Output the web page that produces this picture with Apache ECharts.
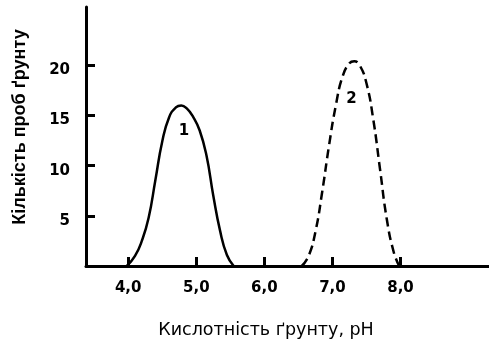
<!DOCTYPE html>
<html>
<head>
<meta charset="utf-8" />
<script src="https://cdn.jsdelivr.net/npm/echarts@6/dist/echarts.min.js"></script>
<title>pH</title>
<style type="text/css">
* {margin:0; padding:0;}
body {background:#ffffff;}
#chart {width:489px; height:345px;}
</style>
</head>
<body>
<div id="chart"></div>
<script>
// крива 1 (суцільна)
var ph1 = [3.98, 4.10, 4.20, 4.30, 4.40, 4.50, 4.60, 4.70, 4.78, 4.86, 4.95, 5.05, 5.15, 5.25, 5.35, 5.45, 5.55];
var count1 = [0, 1.0, 2.5, 4.8, 8.6, 12.4, 14.8, 15.8, 16.0, 15.7, 14.9, 13.5, 11.0, 7.0, 3.5, 1.1, 0];
// крива 2 (пунктир)
var ph2 = [6.55, 6.65, 6.75, 6.85, 6.95, 7.05, 7.15, 7.25, 7.32, 7.40, 7.50, 7.60, 7.70, 7.80, 7.90, 7.98];
var count2 = [0, 1.0, 3.4, 7.4, 12.0, 16.0, 18.9, 20.2, 20.4, 20.0, 18.2, 14.6, 9.6, 4.6, 1.4, 0];
var xTicks = [4, 5, 6, 7, 8];
var yTicks = [5, 10, 15, 20];

function zip(a, b) {
	var out = [];
	for (var i = 0; i < a.length; i++) out.push([a[i], b[i]]);
	return out;
}

var chart = echarts.init(document.getElementById('chart'));
var txt = {color:'#000', fontFamily:'DejaVu Sans', fontWeight:'bold', fontSize:15};

function curveLabel(s) {
	return {
		symbol: 'circle',
		symbolSize: 1,
		itemStyle: {color:'rgba(0,0,0,0)'},
		label: {show:true, position:'inside', formatter:s, color:'#000', fontFamily:'DejaVu Sans', fontWeight:'bold', fontSize:15}
	};
}

var mp1 = curveLabel('1');
mp1.data = [{coord:[4.82, 13.4]}];
var mp2 = curveLabel('2');
mp2.data = [{coord:[7.28, 16.6]}];

chart.setOption({
	animation: false,
	grid: {left:86, right:0, top:7, bottom:79},
	xAxis: {
		type: 'value',
		min: 3.38,
		max: 9.3,
		name: 'Кислотність ґрунту, pH',
		nameLocation: 'middle',
		nameGap: 55,
		nameTextStyle: {color:'#000', fontFamily:'DejaVu Sans', fontSize:17.5, padding:[0, 43, 0, 0]},
		axisLine: {lineStyle:{color:'#000', width:3}},
		axisTick: {inside:true, length:9, lineStyle:{color:'#000', width:3}, customValues: xTicks},
		axisLabel: {
			margin: 15,
			customValues: xTicks,
			formatter: function (v) { return v.toFixed(1).replace('.', ','); },
			color: txt.color, fontFamily: txt.fontFamily, fontWeight: txt.fontWeight, fontSize: txt.fontSize
		},
		splitLine: {show:false}
	},
	yAxis: {
		type: 'value',
		min: 0,
		max: 25.8,
		name: 'Кількість проб ґрунту',
		nameLocation: 'middle',
		nameGap: 57,
		nameTextStyle: {color:'#000', fontFamily:'Liberation Sans', fontSize:18, fontWeight:'bold', padding:[0, 0, 0, 19]},
		axisLine: {show:true, lineStyle:{color:'#000', width:3}},
		axisTick: {show:true, inside:true, length:9, lineStyle:{color:'#000', width:3}, customValues: yTicks},
		axisLabel: {
			margin: 16,
			customValues: yTicks,
			verticalAlign: 'top',
			lineHeight: 10,
			color: txt.color, fontFamily: txt.fontFamily, fontWeight: txt.fontWeight, fontSize: txt.fontSize
		},
		splitLine: {show:false}
	},
	series: [
		{
			type: 'line',
			data: zip(ph1, count1),
			smooth: 0.5,
			showSymbol: false,
			lineStyle: {color:'#000', width:2.5},
			markPoint: mp1
		},
		{
			type: 'line',
			data: zip(ph2, count2),
			smooth: 0.5,
			showSymbol: false,
			lineStyle: {color:'#000', width:2.5, type:[9, 5]},
			markPoint: mp2
		}
	]
});
</script>
</body>
</html>
